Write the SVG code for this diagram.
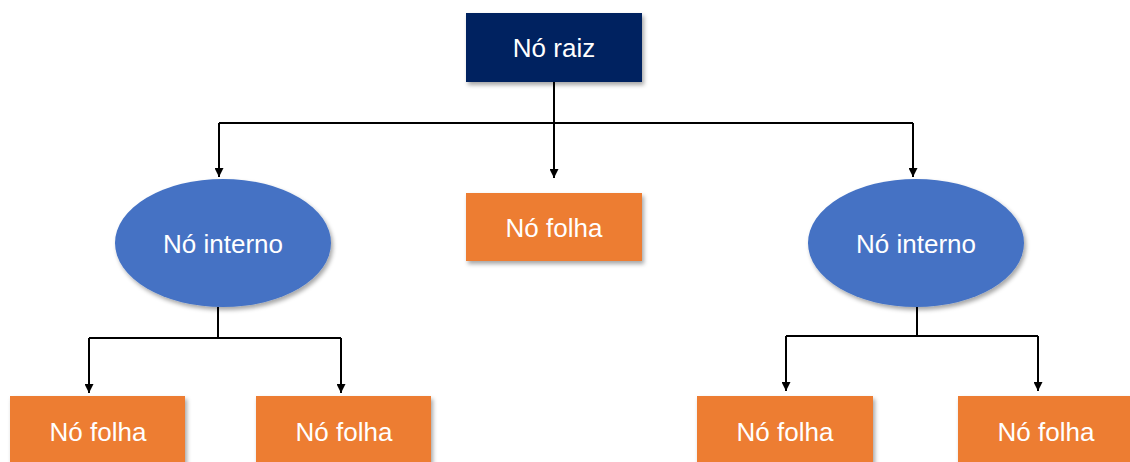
<svg xmlns="http://www.w3.org/2000/svg" width="1130" height="462" viewBox="0 0 1130 462">
<defs>
<filter id="sh" x="-10%" y="-10%" width="125%" height="130%">
<feDropShadow dx="2" dy="3" stdDeviation="2" flood-color="#000" flood-opacity="0.35"/>
</filter>
<marker id="ah" viewBox="0 0 10 10" refX="10" refY="5" markerWidth="4.5" markerHeight="4.5" orient="auto" markerUnits="strokeWidth">
<path d="M0,0 L10,5 L0,10 z" fill="#000"/>
</marker>
<style>
.t{font-family:"Liberation Sans",Arial,sans-serif;font-size:26px;fill:#fff;text-anchor:middle;dominant-baseline:central}
.leaf{fill:#ED7D31;filter:url(#sh)}
.int{fill:#4472C4;filter:url(#sh)}
.c{fill:none;stroke:#000;stroke-width:2}
</style>
</defs>
<rect width="1130" height="462" fill="#fff"/>
<g id="connectors">
<path class="c" d="M554,82 V123"/>
<path class="c" d="M219,123 H913"/>
<path class="c" d="M219,123 V177" marker-end="url(#ah)"/>
<path class="c" d="M554,123 V178" marker-end="url(#ah)"/>
<path class="c" d="M913,123 V177" marker-end="url(#ah)"/>
<path class="c" d="M218,307 V338"/>
<path class="c" d="M89,338 H341"/>
<path class="c" d="M89,338 V393" marker-end="url(#ah)"/>
<path class="c" d="M341,338 V393" marker-end="url(#ah)"/>
<path class="c" d="M917,307 V336"/>
<path class="c" d="M786,336 H1038"/>
<path class="c" d="M786,336 V391" marker-end="url(#ah)"/>
<path class="c" d="M1038,336 V391" marker-end="url(#ah)"/>
</g>
<g id="root">
<rect x="466" y="13" width="176" height="69" fill="#002060" filter="url(#sh)"/>
<text class="t" x="554" y="48">Nó raiz</text>
</g>
<g id="internal-left">
<ellipse class="int" cx="223" cy="243" rx="108" ry="64"/>
<text class="t" x="223" y="244">Nó interno</text>
</g>
<g id="leaf-middle">
<rect class="leaf" x="466" y="193" width="176" height="68"/>
<text class="t" x="554" y="228">Nó folha</text>
</g>
<g id="internal-right">
<ellipse class="int" cx="916" cy="243" rx="108" ry="64"/>
<text class="t" x="916" y="244">Nó interno</text>
</g>
<g id="leaf-1">
<rect class="leaf" x="10" y="396" width="175" height="70"/>
<text class="t" x="98" y="432">Nó folha</text>
</g>
<g id="leaf-2">
<rect class="leaf" x="256" y="396" width="175" height="70"/>
<text class="t" x="344" y="432">Nó folha</text>
</g>
<g id="leaf-3">
<rect class="leaf" x="697" y="396" width="176" height="70"/>
<text class="t" x="785" y="432">Nó folha</text>
</g>
<g id="leaf-4">
<rect class="leaf" x="958" y="396" width="176" height="70"/>
<text class="t" x="1046" y="432">Nó folha</text>
</g>
</svg>
